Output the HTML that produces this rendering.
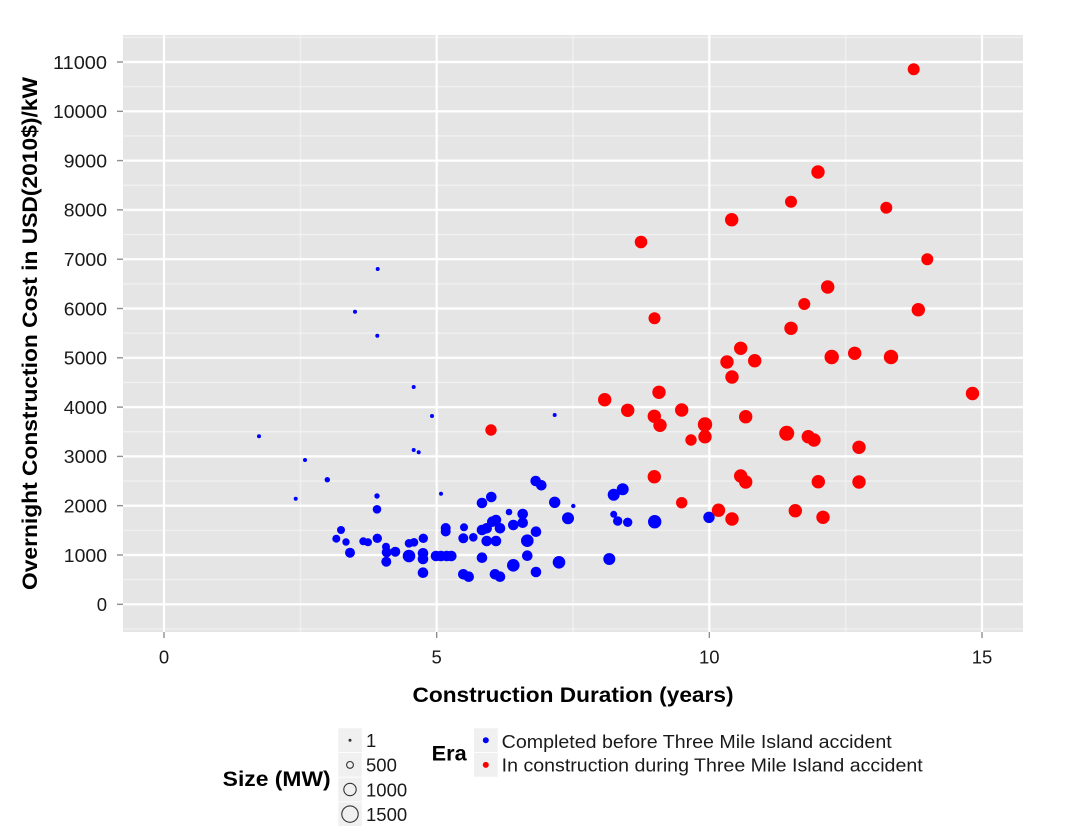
<!DOCTYPE html>
<html><head><meta charset="utf-8"><style>
html,body{margin:0;padding:0;background:#fff;}
svg{display:block;}
text{font-family:"Liberation Sans",Arial,sans-serif;}
</style></head><body>
<svg width="1074" height="829" viewBox="0 0 1074 829" xmlns="http://www.w3.org/2000/svg">
<defs>
<pattern id="hmin" patternUnits="userSpaceOnUse" x="0" y="37.35" width="20" height="49.3"><path d="M0 0H20M0 49.3H20" stroke="#f2f2f2" stroke-width="1.2"/></pattern>
<pattern id="vmin" patternUnits="userSpaceOnUse" x="27.67" y="0" width="272.67" height="20"><path d="M0 0V20M272.67 0V20" stroke="#f2f2f2" stroke-width="1.2"/></pattern>
<pattern id="hmaj" patternUnits="userSpaceOnUse" x="0" y="37.35" width="20" height="49.3"><path d="M0 24.65H20" stroke="#fff" stroke-width="2.2"/></pattern>
<pattern id="vmaj" patternUnits="userSpaceOnUse" x="27.67" y="0" width="272.67" height="20"><path d="M136.33 0V20" stroke="#fff" stroke-width="2.2"/></pattern>
<pattern id="ytk" patternUnits="userSpaceOnUse" x="0" y="37.35" width="20" height="49.3"><path d="M0 24.65H20" stroke="#7f7f7f" stroke-width="1.2"/></pattern>
</defs>
<rect width="1074" height="829" fill="#fff"/>
<rect x="123" y="35" width="900" height="597" fill="#e5e5e5"/>
<rect x="123" y="35" width="900" height="597" fill="url(#hmin)"/>
<rect x="123" y="35" width="900" height="597" fill="url(#vmin)"/>
<rect x="123" y="35" width="900" height="597" fill="url(#hmaj)"/>
<rect x="123" y="35" width="900" height="597" fill="url(#vmaj)"/>
<rect x="117" y="55" width="6" height="555" fill="url(#ytk)"/>
<path d="M164 632v6M436.7 632v6M709.3 632v6M982 632v6" stroke="#7f7f7f" stroke-width="1.2"/>

<g fill="#1a1a1a" font-size="18.5" text-anchor="end">
<text x="107" y="68.8" textLength="54" lengthAdjust="spacingAndGlyphs">11000</text>
<text x="107" y="118.1" textLength="54" lengthAdjust="spacingAndGlyphs">10000</text>
<text x="107" y="167.4" textLength="43.2" lengthAdjust="spacingAndGlyphs">9000</text>
<text x="107" y="216.7" textLength="43.2" lengthAdjust="spacingAndGlyphs">8000</text>
<text x="107" y="266" textLength="43.2" lengthAdjust="spacingAndGlyphs">7000</text>
<text x="107" y="315.3" textLength="43.2" lengthAdjust="spacingAndGlyphs">6000</text>
<text x="107" y="364.6" textLength="43.2" lengthAdjust="spacingAndGlyphs">5000</text>
<text x="107" y="413.9" textLength="43.2" lengthAdjust="spacingAndGlyphs">4000</text>
<text x="107" y="463.2" textLength="43.2" lengthAdjust="spacingAndGlyphs">3000</text>
<text x="107" y="512.5" textLength="43.2" lengthAdjust="spacingAndGlyphs">2000</text>
<text x="107" y="561.8" textLength="43.2" lengthAdjust="spacingAndGlyphs">1000</text>
<text x="107" y="611.1">0</text>
</g>
<g fill="#1a1a1a" font-size="18.5" text-anchor="middle">
<text x="164" y="663.5">0</text>
<text x="436.7" y="663.5">5</text>
<text x="709.3" y="663.5">10</text>
<text x="982" y="663.5">15</text>
</g>
<text x="573" y="702" font-size="21.5" font-weight="bold" text-anchor="middle" fill="#000" textLength="321" lengthAdjust="spacingAndGlyphs">Construction Duration (years)</text>
<text transform="translate(37,333.5) rotate(-90)" font-size="21.5" font-weight="bold" text-anchor="middle" fill="#000" textLength="513" lengthAdjust="spacingAndGlyphs">Overnight Construction Cost in USD(2010$)/kW</text>

<g fill="#0000ff">
<circle cx="377.7" cy="269" r="2"/><circle cx="355" cy="311.7" r="2"/><circle cx="377.3" cy="335.7" r="2"/><circle cx="413.7" cy="387" r="2"/><circle cx="432" cy="416" r="2"/><circle cx="554.7" cy="415" r="2"/>
<circle cx="259" cy="436.3" r="2"/><circle cx="413.7" cy="450" r="2"/><circle cx="418.7" cy="452.3" r="2"/><circle cx="305" cy="460" r="2"/><circle cx="327.3" cy="479.7" r="2.7"/><circle cx="377" cy="496" r="2.7"/>
<circle cx="441" cy="493.7" r="2"/><circle cx="295.7" cy="498.7" r="2"/><circle cx="377" cy="509.3" r="4.3"/><circle cx="573.3" cy="506" r="2.2"/><circle cx="509" cy="512" r="3.3"/><circle cx="491.3" cy="497" r="5.3"/>
<circle cx="482" cy="503" r="5.3"/><circle cx="522.7" cy="514" r="5.3"/><circle cx="535.7" cy="481" r="5.3"/><circle cx="541.3" cy="485.3" r="5.3"/><circle cx="554.7" cy="502.3" r="5.7"/><circle cx="568" cy="518.3" r="6"/>
<circle cx="613.7" cy="494.7" r="6"/><circle cx="622.7" cy="489.3" r="6"/><circle cx="613.7" cy="514.3" r="3.5"/><circle cx="617.7" cy="521" r="4.7"/><circle cx="627.7" cy="522.3" r="4.7"/><circle cx="654.7" cy="521.7" r="6.7"/>
<circle cx="709" cy="517.3" r="5.7"/><circle cx="341" cy="530" r="4"/><circle cx="445.7" cy="528" r="5"/><circle cx="445.7" cy="531.5" r="5"/><circle cx="464" cy="527.3" r="4"/><circle cx="482" cy="530" r="5.3"/>
<circle cx="486.7" cy="528.3" r="5.3"/><circle cx="492.3" cy="521.7" r="5.3"/><circle cx="496" cy="520" r="5.3"/><circle cx="500" cy="528.3" r="5.3"/><circle cx="513.3" cy="525" r="5.3"/><circle cx="522.7" cy="522.7" r="5.3"/>
<circle cx="536" cy="531.7" r="5.3"/><circle cx="336.3" cy="538.7" r="4"/><circle cx="346" cy="542" r="3.7"/><circle cx="363.3" cy="541.3" r="4"/><circle cx="368" cy="542.3" r="4"/><circle cx="377.3" cy="538.3" r="4.7"/>
<circle cx="386" cy="546.7" r="4"/><circle cx="386.7" cy="552.3" r="5"/><circle cx="395.3" cy="551.7" r="5"/><circle cx="409" cy="543.3" r="4.3"/><circle cx="414" cy="542.3" r="4.3"/><circle cx="423.3" cy="538.3" r="4.7"/>
<circle cx="463.3" cy="538.3" r="5"/><circle cx="473.3" cy="537.3" r="4.3"/><circle cx="486.7" cy="541" r="5.3"/><circle cx="496" cy="541" r="5.3"/><circle cx="527.3" cy="540.7" r="6.3"/><circle cx="350" cy="552.7" r="5"/>
<circle cx="409" cy="556" r="6.3"/><circle cx="423" cy="553.3" r="5.3"/><circle cx="423" cy="559" r="5.3"/><circle cx="436" cy="556" r="5.3"/><circle cx="441" cy="556" r="5.3"/><circle cx="446.7" cy="556" r="5.3"/>
<circle cx="451.3" cy="556" r="5.3"/><circle cx="482" cy="557.7" r="5.3"/><circle cx="527.3" cy="555.7" r="5.3"/><circle cx="386.3" cy="561.7" r="5"/><circle cx="513.3" cy="565.3" r="6.3"/><circle cx="536" cy="572" r="5.3"/>
<circle cx="423" cy="572.7" r="5.3"/><circle cx="463.3" cy="574.3" r="5.3"/><circle cx="468.7" cy="576.7" r="5.3"/><circle cx="495" cy="574.3" r="5.3"/><circle cx="500" cy="576.7" r="5.3"/><circle cx="609.3" cy="559" r="6"/>
<circle cx="559" cy="562.3" r="6.3"/>
</g>
<g fill="#ff0000">
<circle cx="913.7" cy="69.3" r="6"/><circle cx="818" cy="172" r="6.7"/><circle cx="791" cy="201.7" r="6"/><circle cx="886.3" cy="207.7" r="6"/><circle cx="731.7" cy="219.7" r="6.7"/><circle cx="641" cy="242" r="6.3"/>
<circle cx="927.3" cy="259.3" r="6"/><circle cx="827.7" cy="287" r="6.7"/><circle cx="804.3" cy="304" r="6"/><circle cx="918.3" cy="309.7" r="6.7"/><circle cx="654.5" cy="318.3" r="6"/><circle cx="791" cy="328.3" r="6.7"/>
<circle cx="740.7" cy="348.3" r="6.7"/><circle cx="727" cy="362" r="6.7"/><circle cx="754.7" cy="360.7" r="6.7"/><circle cx="732" cy="377" r="6.7"/><circle cx="831.7" cy="357" r="7.2"/><circle cx="854.7" cy="353.3" r="6.7"/>
<circle cx="891" cy="357" r="7.2"/><circle cx="972.5" cy="393.5" r="6.7"/><circle cx="659" cy="392.3" r="6.7"/><circle cx="604.7" cy="399.7" r="6.7"/><circle cx="627.7" cy="410.3" r="6.7"/><circle cx="681.7" cy="410" r="6.7"/>
<circle cx="654.3" cy="416.3" r="6.7"/><circle cx="660" cy="425.3" r="6.7"/><circle cx="705" cy="424.5" r="7.2"/><circle cx="705" cy="436.7" r="6.7"/><circle cx="691" cy="440" r="5.7"/><circle cx="745.7" cy="416.7" r="6.7"/>
<circle cx="786.7" cy="433.3" r="7.5"/><circle cx="808.3" cy="436.7" r="6.7"/><circle cx="814" cy="440" r="6.7"/><circle cx="859" cy="447.3" r="6.7"/><circle cx="491" cy="430" r="5.7"/><circle cx="654.3" cy="476.7" r="6.7"/>
<circle cx="681.7" cy="502.7" r="5.7"/><circle cx="740.7" cy="476" r="6.7"/><circle cx="745.7" cy="482" r="6.7"/><circle cx="818.3" cy="481.7" r="6.7"/><circle cx="859" cy="482" r="6.7"/><circle cx="718.5" cy="510.2" r="6.7"/>
<circle cx="732" cy="519" r="6.7"/><circle cx="795.3" cy="510.7" r="6.7"/><circle cx="823" cy="517.3" r="6.7"/>
</g>

<text x="222.7" y="786" font-size="21.5" font-weight="bold" fill="#000" textLength="108" lengthAdjust="spacingAndGlyphs">Size (MW)</text>
<path d="M338.3 728.3h23.4v23.8h-23.4zM338.3 753h23.4v23.8h-23.4zM338.3 777.6h23.4v23.8h-23.4zM338.3 802.2h23.4v23.8h-23.4zM474 728.3h23.7v23.8h-23.7zM474 753h23.7v23.8h-23.7z" fill="#f0f0f0"/>
<circle cx="350" cy="740.2" r="1.5" fill="#333"/>
<g fill="none" stroke="#333" stroke-width="1.1"><circle cx="350" cy="764.9" r="3.4"/><circle cx="350" cy="789.5" r="6.2"/><circle cx="350" cy="814.1" r="8.2"/></g>
<g fill="#1a1a1a" font-size="18.5">
<text x="366" y="747">1</text>
<text x="366" y="771.7">500</text>
<text x="366" y="796.4">1000</text>
<text x="366" y="820.8">1500</text>
</g>
<text x="431.7" y="760.7" font-size="21.5" font-weight="bold" fill="#000" textLength="35" lengthAdjust="spacingAndGlyphs">Era</text>
<circle cx="485.8" cy="740.2" r="3" fill="#0000ff"/>
<circle cx="485.8" cy="764.9" r="3" fill="#ff0000"/>
<g fill="#1a1a1a" font-size="18.5">
<text x="501.7" y="748" textLength="390" lengthAdjust="spacingAndGlyphs">Completed before Three Mile Island accident</text>
<text x="501.7" y="771.7" textLength="421" lengthAdjust="spacingAndGlyphs">In construction during Three Mile Island accident</text>
</g>
</svg>
</body></html>
